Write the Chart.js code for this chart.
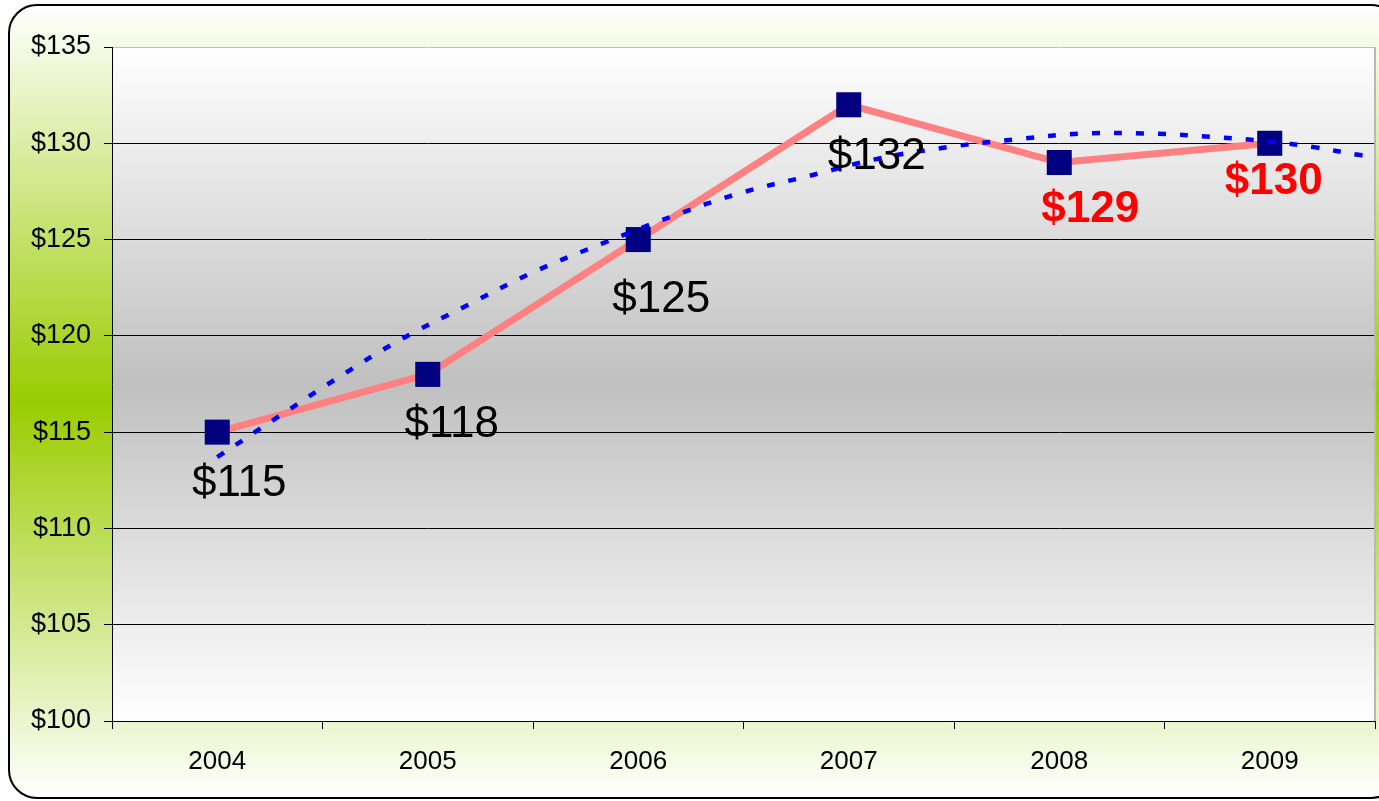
<!DOCTYPE html>
<html>
<head>
<meta charset="utf-8">
<title>Price</title>
<script src="https://cdn.jsdelivr.net/npm/chart.js@4/dist/chart.umd.min.js"></script>
<style>
  html, body { margin: 0; padding: 0; background: #fff; }
  #graph { display: block; }
</style>
</head>
<body>
<canvas id="graph" width="1379" height="801"></canvas>
<script>
const years = ['2004', '2005', '2006', '2007', '2008', '2009'];
const prices = [115, 118, 125, 132, 129, 130];
const firstForecast = 4; // 2008 onwards shown in bold red
const yTicks = [100, 105, 110, 115, 120, 125, 130, 135];

// trend line, x given as category index (0 = 2004)
const trendPos = [0, 0.29, 0.57, 0.87, 1.19, 1.5, 1.83, 2.16, 2.48, 2.81, 3.14, 3.47, 3.79, 4.11, 4.45, 4.76, 4.99, 5.21, 5.42, 5.5];
const trendVals = [113.7, 115.8, 117.8, 119.8, 121.6, 123.3, 124.8, 126.2, 127.4, 128.3, 129.2, 129.8, 130.2, 130.5, 130.5, 130.3, 130.1, 129.8, 129.4, 129.3];

const FONT = '"Liberation Sans", Arial, sans-serif';
// where each value label sits relative to its marker
const labelShift = [[22, 48], [24, 47], [23, 56], [28, 48], [31, 43], [4, 35]];

const frame = {
  id: 'frame',
  beforeDraw(chart) {
    const ctx = chart.ctx, a = chart.chartArea;
    ctx.save();
    let g = ctx.createLinearGradient(0, 5, 0, 798);
    g.addColorStop(0, '#ffffff');
    g.addColorStop(0.5, '#99cc00');
    g.addColorStop(1, '#ffffff');
    ctx.beginPath();
    ctx.roundRect(9, 5, 1390, 793, 28);
    ctx.fillStyle = g;
    ctx.fill();
    ctx.lineWidth = 2;
    ctx.strokeStyle = '#000';
    ctx.stroke();

    // plot area
    g = ctx.createLinearGradient(0, a.top, 0, a.bottom);
    g.addColorStop(0, '#ffffff');
    g.addColorStop(0.5, '#c0c0c0');
    g.addColorStop(1, '#ffffff');
    ctx.fillStyle = g;
    ctx.fillRect(a.left, a.top, a.right - a.left, a.bottom - a.top);
    ctx.restore();
  },
  beforeDatasetsDraw(chart) {
    const ctx = chart.ctx, a = chart.chartArea;
    ctx.save();
    ctx.strokeStyle = '#b8b8b8';
    ctx.lineWidth = 2;
    ctx.beginPath();
    ctx.moveTo(a.right, a.top);
    ctx.lineTo(a.right, a.bottom);
    ctx.stroke();
    ctx.restore();
  },
  afterDatasetsDraw(chart) {
    const ctx = chart.ctx;
    const pts = chart.getDatasetMeta(0).data;
    ctx.save();
    ctx.textAlign = 'center';
    ctx.textBaseline = 'alphabetic';
    pts.forEach((p, i) => {
      const bold = i >= firstForecast;
      ctx.font = (bold ? 'bold ' : '') + '44px ' + FONT;
      ctx.fillStyle = bold ? '#ff0000' : '#000000';
      ctx.fillText('$' + prices[i], p.x + labelShift[i][0], p.y + labelShift[i][1] + 16);
    });
    ctx.restore();
  }
};

new Chart(document.querySelector('#graph').getContext('2d'), {
  type: 'line',
  data: {
    labels: years,
    datasets: [{
      data: prices,
      order: 2,
      borderColor: '#ff8080',
      borderWidth: 7,
      tension: 0,
      pointStyle: 'rect',
      pointRadius: 17.7,
      pointBackgroundColor: '#000080',
      pointBorderColor: '#000080',
      pointBorderWidth: 0,
      clip: false
    }, {
      data: trendPos.map((p, i) => ({ x: p, y: trendVals[i] })),
      xAxisID: 'xt',
      order: 1,
      borderColor: '#0000ff',
      borderWidth: 4.5,
      borderDash: [8, 14],
      borderCapStyle: 'butt',
      pointRadius: 0,
      tension: 0.4,
      fill: false
    }]
  },
  options: {
    responsive: false,
    animation: false,
    events: [],
    layout: { autoPadding: false, padding: { top: 47, right: 4, left: 0, bottom: 0 } },
    plugins: {
      legend: { display: false },
      tooltip: { enabled: false }
    },
    scales: {
      x: {
        offset: true,
        afterFit: s => { s.height = 80; },
        border: { color: '#000', width: 1 },
        grid: { offset: true, drawOnChartArea: false, tickLength: 8, color: '#000' },
        ticks: { color: '#000', font: { family: FONT, size: 26 }, padding: 17, maxRotation: 0 }
      },
      xt: {
        type: 'linear',
        axis: 'x',
        min: -0.5,
        max: 5.5,
        display: false
      },
      y: {
        min: 100,
        max: 135,
        afterBuildTicks: s => { s.ticks = yTicks.map(v => ({ value: v })); },
        afterFit: s => { s.width = 112; },
        border: { color: '#000', width: 1 },
        grid: {
          color: c => (c.tick && c.tick.value === 135) ? '#c0c0c0' : '#000',
          tickColor: '#000',
          tickLength: 8,
          lineWidth: 1
        },
        ticks: {
          color: '#000',
          font: { family: FONT, size: 27 },
          padding: 13,
          callback: v => '$' + v
        }
      }
    }
  },
  plugins: [frame]
});
</script>
</body>
</html>
